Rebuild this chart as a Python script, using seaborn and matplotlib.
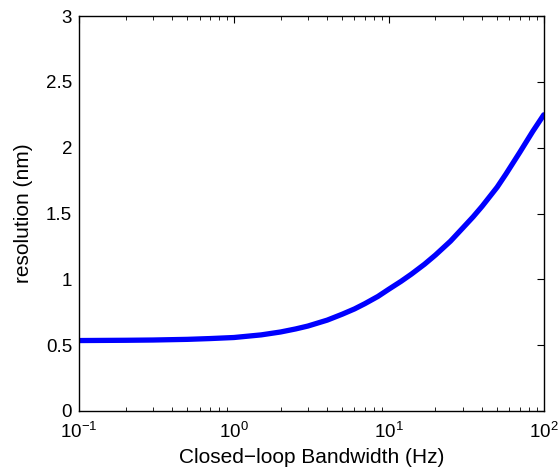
import matplotlib
matplotlib.use("Agg")
import matplotlib.pyplot as plt
import seaborn as sns
import pandas as pd
from matplotlib.ticker import LogLocator, FixedLocator, FixedFormatter

bandwidth_hz = [0.1, 0.2, 0.3, 0.5, 0.7, 1.0, 1.5, 2.0, 2.5, 3.0, 4.0, 5.0, 6.0, 7.0, 8.5, 10.0, 12.0, 14.0, 17.0, 20.0, 25.0, 30.0, 35.0, 40.0, 50.0, 57.0, 70.0, 85.0, 100.0]
resolution_nm = [0.535, 0.537, 0.539, 0.544, 0.550, 0.558, 0.578, 0.600, 0.623, 0.645, 0.690, 0.735, 0.775, 0.815, 0.870, 0.925, 0.985, 1.040, 1.115, 1.185, 1.290, 1.390, 1.475, 1.555, 1.700, 1.800, 1.965, 2.125, 2.250]
y_ticks = [0, 0.5, 1, 1.5, 2, 2.5, 3]
y_tick_labels = ["0", "0.5", "1", "1.5", "2", "2.5", "3"]

sns.set_theme(style="white")
plt.rcParams['font.family'] = ['Liberation Sans', 'DejaVu Sans']
plt.rcParams['mathtext.fontset'] = 'custom'
plt.rcParams['mathtext.rm'] = 'Liberation Sans'
plt.rcParams['mathtext.it'] = 'Liberation Sans'
plt.rcParams['mathtext.bf'] = 'Liberation Sans'

df = pd.DataFrame({"bw": bandwidth_hz, "res": resolution_nm})

fig = plt.figure(figsize=(5.6, 4.74), dpi=100)
ax = fig.add_axes([0.141, 0.133, 0.830, 0.833])
sns.lineplot(data=df, x="bw", y="res", ax=ax, color="#0000FF", linewidth=3.8)
ax.set_xscale("log")
ax.set_xlim(0.1, 100)
ax.set_ylim(0, 3)
ax.yaxis.set_major_locator(FixedLocator(y_ticks))
ax.yaxis.set_major_formatter(FixedFormatter(y_tick_labels))
ax.xaxis.set_major_locator(LogLocator(base=10, numticks=10))
ax.xaxis.set_minor_locator(LogLocator(base=10, subs=range(2, 10), numticks=20))
ax.tick_params(which="both", direction="in", top=True, right=True, labelsize=13.5, colors="black")
ax.tick_params(which="major", length=5, width=0.8)
ax.tick_params(axis="y", which="major", pad=5)
ax.tick_params(axis="x", which="major", pad=8)
ax.tick_params(which="minor", length=3, width=0.6)
ax.tick_params(axis="x", which="minor", bottom=True, top=True)
for s in ax.spines.values():
    s.set_color("black")
    s.set_linewidth(1.0)
ax.set_xlabel("Closed\u2212loop Bandwidth (Hz)", fontsize=15, color="black", labelpad=4)
ax.set_ylabel("resolution (nm)", fontsize=15, color="black", labelpad=9)
fig.savefig("out.png", dpi=100)
